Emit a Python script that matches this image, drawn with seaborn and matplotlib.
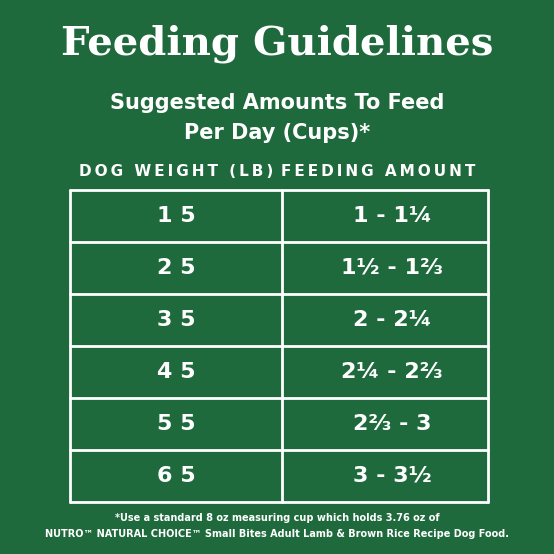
import matplotlib
matplotlib.use("Agg")
import matplotlib.pyplot as plt
import seaborn as sns

weights = ["15", "25", "35", "45", "55", "65"]
amounts = ["1 - 1¼", "1½ - 1⅔", "2 - 2¼", "2¼ - 2⅔", "2⅔ - 3", "3 - 3½"]
headers = ["DOG WEIGHT (LB)", "FEEDING AMOUNT"]

sns.set_theme(style="white")
plt.rcParams['font.family'] = ['DejaVu Sans']
bg = "#1f6a3d"
fig = plt.figure(figsize=(5.54, 5.54), dpi=100, facecolor=bg)
ax = fig.add_axes([0, 0, 1, 1])
ax.set_facecolor(bg)
ax.set_xlim(0, 554); ax.set_ylim(554, 0); ax.axis("off")

def spaced(s):
    return "\u2009".join(s)

ax.text(277, 44, "Feeding Guidelines", color="white", ha="center", va="center",
        fontsize=29, fontweight="bold", family=["DejaVu Serif"])
ax.text(277, 103, "Suggested Amounts To Feed", color="white", ha="center", va="center", fontsize=15, fontweight="bold")
ax.text(277, 133, "Per Day (Cups)*", color="white", ha="center", va="center", fontsize=15, fontweight="bold")
ax.text(176, 172, spaced(headers[0]), color="white", ha="center", va="center", fontsize=11, fontweight="bold", family=["Liberation Sans Narrow", "DejaVu Sans"])
ax.text(378, 172, spaced(headers[1]), color="white", ha="center", va="center", fontsize=11, fontweight="bold", family=["Liberation Sans Narrow", "DejaVu Sans"])

top, rh, x0, x1, xm = 190, 52, 70, 488, 282
n = len(weights)
for i in range(n + 1):
    ax.plot([x0, x1], [top + i * rh] * 2, color="white", lw=2)
for x in (x0, xm, x1):
    ax.plot([x, x], [top, top + n * rh], color="white", lw=2)
for i, (w, a) in enumerate(zip(weights, amounts)):
    y = top + i * rh + rh / 2
    ax.text(176, y, " ".join(w), color="white", ha="center", va="center", fontsize=16, fontweight="bold")
    ax.text(392, y, a, color="white", ha="center", va="center", fontsize=16, fontweight="bold")

ax.text(277, 518, "*Use a standard 8 oz measuring cup which holds 3.76 oz of", color="white",
        ha="center", va="center", fontsize=7, fontweight="bold")
ax.text(277, 534, "NUTRO™ NATURAL CHOICE™ Small Bites Adult Lamb & Brown Rice Recipe Dog Food.", color="white",
        ha="center", va="center", fontsize=7, fontweight="bold")
fig.savefig("out.png", dpi=100, facecolor=bg)
